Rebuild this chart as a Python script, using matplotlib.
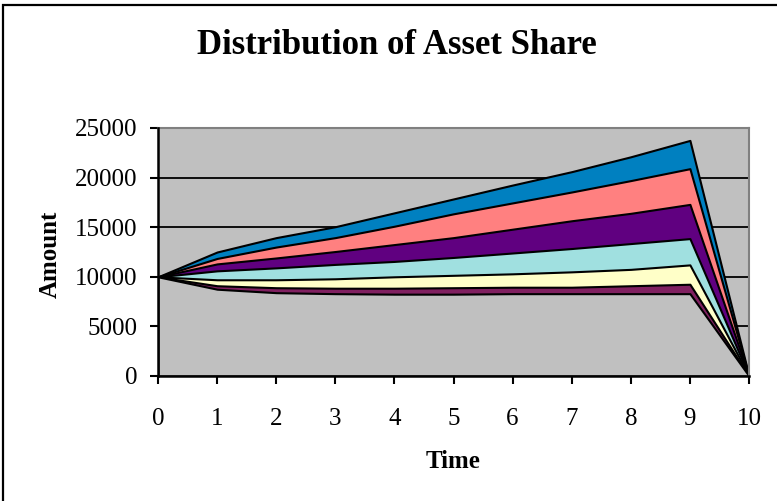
import matplotlib
matplotlib.use("Agg")
import matplotlib.pyplot as plt
from matplotlib.patches import Rectangle

plt.rcParams['font.family'] = ['Liberation Serif', 'DejaVu Serif']

# Time periods
time = [0, 1, 2, 3, 4, 5, 6, 7, 8, 9, 10]

# Asset share paths, largest to smallest
share_a = [10000, 12500, 13950, 15050, 16450, 17850, 19250, 20600, 22100, 23750, 0]
share_b = [10000, 11850, 13000, 13950, 15100, 16350, 17450, 18550, 19700, 20900, 0]
share_c = [10000, 11300, 11900, 12550, 13250, 13950, 14800, 15650, 16400, 17300, 0]
share_d = [10000, 10600, 10900, 11250, 11550, 11950, 12400, 12850, 13350, 13850, 0]
share_e = [10000, 9700, 9700, 9800, 10000, 10150, 10300, 10500, 10750, 11200, 0]
share_f = [10000, 9100, 8900, 8850, 8850, 8900, 8950, 8950, 9100, 9250, 0]
share_g = [10000, 8750, 8400, 8300, 8250, 8250, 8300, 8300, 8300, 8300, 0]

series = [share_a, share_b, share_c, share_d, share_e, share_f, share_g]
colors = ['#0080C0', '#FF8080', '#600080', '#A0E0E0', '#FFFFC8', '#802060', '#C0C0C0']

y_ticks = [0, 5000, 10000, 15000, 20000, 25000]

W, H = 777, 501
fig = plt.figure(figsize=(W / 100, H / 100), dpi=100)
fig.patch.set_facecolor('white')

# outer chart frame
fig.patches.append(Rectangle((3 / W, -0.2), 1.2, 1.2 - 5 / H,
                             transform=fig.transFigure, fill=False,
                             edgecolor='black', linewidth=1.6))

left, right, top, bottom = 158, 749, 128, 376
ax = fig.add_axes([left / W, 1 - bottom / H, (right - left) / W, (bottom - top) / H])
ax.set_facecolor('#C0C0C0')

for vals, col in zip(series, colors):
    ax.fill_between(time, 0, vals, facecolor=col, edgecolor='black',
                    linewidth=1.5, zorder=2)

ax.set_xlim(0, 10)
ax.set_ylim(0, 25000)
ax.set_xticks(time)
ax.set_yticks(y_ticks)
ax.yaxis.grid(True, color='black', linewidth=1.3, zorder=1)
ax.set_axisbelow(True)

for side in ('top', 'right'):
    ax.spines[side].set_color('#808080')
    ax.spines[side].set_linewidth(1.5)
for side in ('left', 'bottom'):
    ax.spines[side].set_color('black')
    ax.spines[side].set_linewidth(1.8)
    ax.spines[side].set_zorder(5)

ax.tick_params(axis='y', direction='out', length=6, width=1.5, pad=9,
               labelsize=18)
ax.tick_params(axis='x', direction='out', length=6, width=1.5, pad=17,
               labelsize=18)

fig.text(397 / W, 1 - 45 / H, 'Distribution of Asset Share', ha='center',
         va='center', fontsize=25, fontweight='bold')
fig.text(453 / W, 1 - 461 / H, 'Time', ha='center', va='center',
         fontsize=18, fontweight='bold')
fig.text(50 / W, 1 - 254 / H, 'Amount', ha='center', va='center',
         rotation=90, fontsize=18, fontweight='bold')

fig.savefig('out.png', dpi=100)
